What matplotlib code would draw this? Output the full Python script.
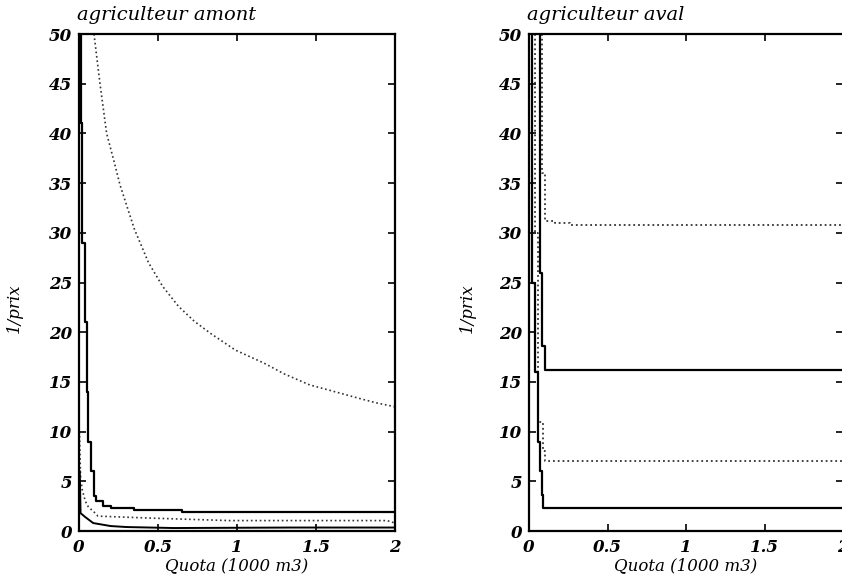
import matplotlib.pyplot as plt

# --- data ---
# left panel: agriculteur amont
amont_dot_x = [0.095, 0.133, 0.175, 0.22, 0.26, 0.35, 0.44, 0.53, 0.63, 0.73, 0.84,
               0.99, 1.17, 1.3, 1.46, 1.6, 1.76, 1.88, 2.0]
amont_dot_y = [50, 45, 40, 37.3, 34.8, 30.4, 27, 24.6, 22.6, 21.1, 19.8,
               18.2, 16.9, 15.8, 14.7, 14.1, 13.4, 12.9, 12.5]

amont_solid_x = [0.012, 0.02, 0.036, 0.05, 0.06, 0.077, 0.095, 0.11, 0.15, 0.2, 0.35, 0.65, 1.45, 2.0]
amont_solid_y = [50, 41, 29, 21, 14, 9, 6, 3.5, 3.0, 2.5, 2.3, 2.1, 1.95, 1.95]

amont_dot2_x = [0.003, 0.01, 0.02, 0.04, 0.06, 0.09, 0.12, 0.2, 0.45, 0.95, 1.95, 2.0]
amont_dot2_y = [10, 5.5, 4.2, 3.0, 2.4, 2.0, 1.5, 1.45, 1.3, 1.05, 1.05, 0.8]

amont_low_x = [0.005, 0.01, 0.04, 0.09, 0.2, 0.3, 0.6, 1.35, 2.0]
amont_low_y = [6, 1.8, 1.4, 0.8, 0.5, 0.4, 0.3, 0.35, 0.35]

# right panel: agriculteur aval
aval_a_x = [0.085, 0.10, 0.165, 0.26, 2.0]
aval_a_y = [50, 36, 31.2, 31.0, 30.8]

aval_b_x = [0.07, 0.085, 0.10, 2.0]
aval_b_y = [50, 26, 18.6, 16.2]

aval_c_x = [0.04, 0.06, 0.09, 0.10, 2.0]
aval_c_y = [50, 30, 11, 8, 7.0]

aval_d_x = [0.02, 0.04, 0.055, 0.07, 0.08, 0.09, 2.0]
aval_d_y = [50, 25, 16, 9, 6, 3.6, 2.3]

xticks = [0, 0.5, 1, 1.5, 2]
xtick_labels = ['0', '0.5', '1', '1.5', '2']
yticks = list(range(0, 51, 5))

plt.rcParams['font.family'] = ['DejaVu Serif']
plt.rcParams['font.style'] = 'italic'

fig = plt.figure(figsize=(8.42, 5.75), dpi=100)
ax1 = fig.add_axes([0.0938, 0.0765, 0.3753, 0.8643])
ax2 = fig.add_axes([0.6283, 0.0765, 0.3729, 0.8643])


def style(ax, title, ylab_x):
    ax.set_xlim(0, 2)
    ax.set_ylim(0, 50)
    ax.set_xticks(xticks)
    ax.set_xticklabels(xtick_labels)
    ax.set_yticks(yticks)
    ax.tick_params(direction='in', top=True, right=True, length=5, width=1.2,
                   labelsize=12, pad=5)
    ax.tick_params(axis='x', pad=6)
    for lab in ax.get_xticklabels() + ax.get_yticklabels():
        lab.set_fontweight('bold')
        lab.set_fontstyle('italic')
    for sp in ax.spines.values():
        sp.set_linewidth(1.6)
    ax.text(-0.006, 1.038, title, transform=ax.transAxes, fontsize=14,
            style='italic', ha='left', va='center')
    ax.set_xlabel('Quota (1000 m3)', fontsize=12, style='italic', va='center')
    ax.xaxis.set_label_coords(0.5, -0.070)
    ax.set_ylabel('1/prix', fontsize=12, style='italic', va='center')
    ax.yaxis.set_label_coords(ylab_x, 0.449)


ax1.plot(amont_dot_x, amont_dot_y, ls=':', color='#333333', lw=1.2)
ax1.plot(amont_solid_x, amont_solid_y, drawstyle='steps-pre', color='black', lw=1.6)
ax1.plot(amont_dot2_x, amont_dot2_y, ls=':', color='#333333', lw=1.2)
ax1.plot(amont_low_x, amont_low_y, color='black', lw=1.4)
style(ax1, 'agriculteur amont', -0.203)

ax2.plot(aval_a_x, aval_a_y, drawstyle='steps-pre', ls=':', color='#333333', lw=1.3)
ax2.plot(aval_b_x, aval_b_y, drawstyle='steps-pre', color='black', lw=1.6)
ax2.plot(aval_c_x, aval_c_y, drawstyle='steps-pre', ls=':', color='#333333', lw=1.3)
ax2.plot(aval_d_x, aval_d_y, drawstyle='steps-pre', color='black', lw=1.6)
style(ax2, 'agriculteur aval', -0.197)

fig.savefig('out.png', dpi=100)
